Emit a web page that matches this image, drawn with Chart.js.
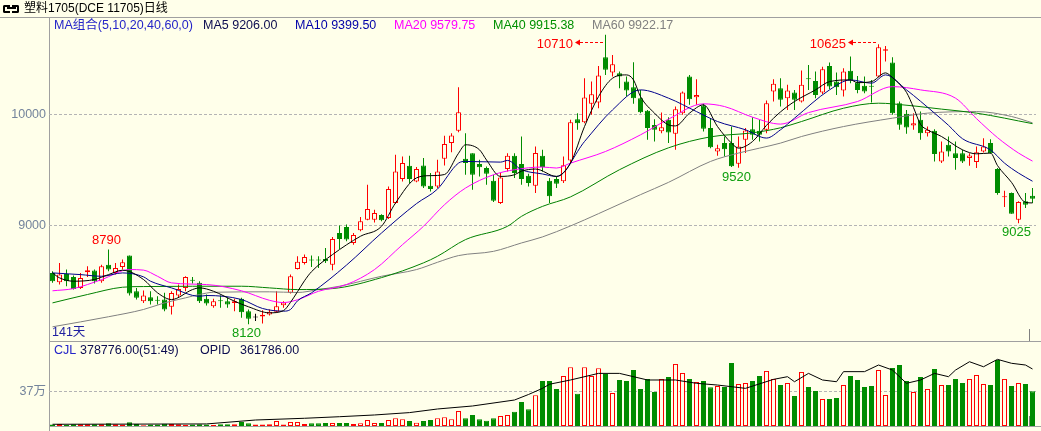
<!DOCTYPE html>
<html>
<head>
<meta charset="utf-8">
<title>塑料1705 日线</title>
<script src="https://cdn.jsdelivr.net/npm/chart.js@4.4.1/dist/chart.umd.min.js"></script>
<style>
  html, body { margin: 0; padding: 0; }
  body { width: 1041px; height: 431px; overflow: hidden; position: relative; background: #ffffea;
         font-family: "Liberation Sans", "Noto Sans CJK SC", sans-serif; }
  .txt { position: absolute; white-space: nowrap; font-size: 12.5px; line-height: 14px; }
  .ln { position: absolute; background: #a0a0a0; }
  canvas { position: absolute; left: 0; }
  #kline { top: 0; }
  #vol { top: 341px; }
  .ic { position: absolute; top: 5px; width: 5px; height: 4px; border: 2px solid #000; }
</style>
</head>
<body>
<div class="ln" style="left:0;top:17px;width:1041px;height:1px"></div>
<div class="ln" style="left:49px;top:17px;width:1px;height:414px"></div>
<div class="ln" style="left:49px;top:341px;width:992px;height:1px"></div>
<div class="ln" style="left:49px;top:426px;width:992px;height:1px"></div>
<div class="ln" style="left:1029px;top:329px;width:1px;height:12px;background:#808080"></div>
<div class="ln" style="left:1029px;top:416px;width:1px;height:10px;background:#808080"></div>

<canvas id="kline" width="1041" height="341"></canvas>
<canvas id="vol" width="1041" height="96"></canvas>

<div class="ic" style="left:3px;border-right:none;border-radius:2px 0 0 2px"></div>
<div class="ic" style="left:12px;border-left:none;border-radius:0 2px 2px 0"></div>
<div style="position:absolute;left:7px;top:7px;width:9px;height:2px;background:#000"></div>
<div class="txt" style="left:24px;top:1px;font-size:12px;color:#000">塑料1705(DCE 11705)日线</div>

<div class="txt" style="left:54px;top:18px;color:#2424c8">MA组合(5,10,20,40,60,0)</div>
<div class="txt" style="left:203px;top:18px;color:#0c0c50">MA5 9206.00</div>
<div class="txt" style="left:295px;top:18px;color:#0000a8">MA10 9399.50</div>
<div class="txt" style="left:394px;top:18px;color:#ff00ff">MA20 9579.75</div>
<div class="txt" style="left:493px;top:18px;color:#009000">MA40 9915.38</div>
<div class="txt" style="left:592px;top:18px;color:#808080">MA60 9922.17</div>

<div class="txt" style="left:52px;top:325px;color:#2020a0">141天</div>

<div class="txt" style="left:54px;top:343px;color:#2424c8">CJL</div>
<div class="txt" style="left:80px;top:343px;color:#0c0c50">378776.00(51:49)</div>
<div class="txt" style="left:200px;top:343px;color:#0c0c50">OPID</div>
<div class="txt" style="left:240px;top:343px;color:#0c0c50">361786.00</div>

<script>
// ===== 日线数据 (141 根) =====
const opens = [
  8580,8497,8571,8544,8446,8586,8601,8506,8654,8580,
  8633,8735,8416,8327,8363,8335,8342,8277,8378,8446,
  8513,8491,8348,8282,8336,8327,8312,8348,8238,8182,
  8190,8208,8232,8290,8402,8616,8669,8695,8695,8705,
  8654,8937,8991,8848,8961,9056,9056,9098,9071,9205,
  9419,9538,9398,9541,9360,9354,9601,9741,9851,9601,
  9651,9553,9518,9405,9205,9509,9628,9553,9449,9360,
  9628,9405,9419,9399,9586,9955,9928,10092,10104,10509,
  10372,10366,10291,10241,10143,10030,9904,9848,9949,9824,
  10009,10336,10152,10077,9875,9666,9741,9741,9556,9771,
  9866,9851,9860,10202,10232,10143,10193,10113,10321,10297,
  10193,10431,10291,10211,10387,10282,10253,10250,10336,10568,
  10461,10098,10003,9899,9949,9830,9851,9577,9726,9651,
  9651,9607,9571,9666,9741,9509,9256,9294,9056,9220,
  9270
];
const highs = [
  8595,8669,8610,8556,8580,8639,8610,8654,8790,8669,
  8699,8735,8446,8422,8416,8372,8402,8416,8476,8550,
  8544,8506,8387,8348,8378,8357,8348,8357,8253,8215,
  8247,8253,8416,8327,8565,8729,8744,8735,8729,8803,
  8901,9003,9012,8937,9080,9369,9145,9104,9354,9637,
  9622,9628,9527,9607,9473,9592,9806,9830,10241,9830,
  9651,9592,9532,9458,9473,9651,9650,9800,9467,9711,
  9681,9428,9443,9622,9949,10009,10321,10291,10431,10710,
  10529,10381,10336,10464,10217,10038,9955,10015,9973,10068,
  10202,10351,10312,10092,9964,9726,9800,9890,9800,9875,
  9973,9949,10122,10312,10321,10262,10217,10390,10440,10381,
  10425,10461,10372,10410,10515,10342,10336,10306,10625,10610,
  10509,10113,10038,10009,10023,9890,9866,9756,9800,9756,
  9681,9651,9711,9785,9776,9518,9315,9300,9220,9294,
  9339
];
const lows = [
  8491,8476,8461,8431,8437,8544,8485,8491,8595,8565,
  8610,8378,8342,8312,8297,8297,8238,8208,8357,8416,
  8485,8312,8288,8268,8268,8268,8238,8178,8120,8150,
  8128,8199,8223,8268,8395,8610,8655,8634,8625,8669,
  8604,8794,8863,8833,8952,9050,9032,9041,9062,9199,
  9398,9384,9390,9339,9309,9339,9541,9660,9839,9458,
  9324,9443,9369,9214,9196,9488,9428,9369,9354,9294,
  9488,9205,9339,9384,9562,9860,9919,9994,10053,10351,
  10336,10232,10157,10092,10009,9771,9756,9830,9741,9681,
  9994,10083,10083,9845,9696,9628,9622,9527,9520,9652,
  9771,9756,9830,10113,10068,10038,10038,10104,10217,10143,
  10181,10223,10172,10157,10277,10187,10187,10104,10330,10470,
  9994,9860,9824,9860,9771,9800,9577,9562,9622,9503,
  9562,9538,9518,9657,9645,9280,9170,9110,9025,9160,
  9205
];
const closes = [
  8505,8565,8506,8437,8535,8604,8506,8639,8610,8625,
  8675,8395,8357,8378,8327,8331,8253,8401,8437,8544,
  8509,8327,8306,8327,8327,8297,8327,8229,8170,8182,
  8205,8232,8282,8315,8550,8679,8723,8690,8690,8684,
  8884,8884,8878,8919,9041,9151,9116,9050,9330,9488,
  9562,9419,9509,9354,9330,9488,9732,9809,10018,9562,
  9458,9524,9467,9226,9434,9628,9473,9420,9384,9652,
  9527,9265,9378,9544,9928,9919,10149,10178,10345,10396,
  10446,10336,10211,10143,10018,9875,9860,9883,9836,10044,
  10193,10134,10172,9869,9705,9696,9687,9535,9711,9854,
  9815,9815,10098,10271,10128,10211,10128,10262,10312,10172,
  10402,10247,10241,10381,10300,10217,10202,10246,10598,10580,
  10009,9905,9881,9919,9830,9860,9643,9666,9666,9607,
  9577,9631,9660,9711,9651,9294,9262,9110,9214,9190,
  9244
];
// 成交量 CJL
const vols = [
  15000,22000,11000,18000,18000,18000,18000,18000,29000,18000,
  15000,40000,22000,7000,15000,15000,25000,22000,18000,11000,
  15000,18000,15000,11000,18000,18000,18000,44000,29000,15000,
  15000,18000,54000,15000,44000,44000,22000,29000,29000,33000,
  33000,33000,33000,22000,29000,65000,33000,33000,65000,83000,
  73000,54000,36000,54000,65000,83000,94000,73000,163000,83000,
  120000,73000,58000,83000,109000,120000,156000,261000,181000,334000,
  490000,490000,403000,544000,638000,352000,638000,544000,628000,566000,
  359000,501000,490000,609000,403000,512000,370000,512000,533000,675000,
  577000,512000,479000,490000,421000,435000,424000,686000,457000,468000,
  490000,544000,599000,512000,446000,468000,326000,588000,424000,381000,
  294000,294000,305000,446000,544000,501000,424000,435000,609000,337000,
  631000,664000,490000,370000,533000,403000,620000,446000,446000,512000,
  468000,512000,555000,457000,446000,718000,512000,435000,468000,457000,
  378776
];

// 均线 (读图取点: [序号, 数值])
const ma5Pts = [[0,8580],[1,8536],[3,8506],[6,8521],[8,8565],[10,8604],[13,8521],[15,8402],[17,8342],[20,8431],[21,8446],[23,8416],[26,8327],[28,8277],[31,8223],[33,8243],[34,8317],[35,8412],[36,8510],[37,8591],[40,8744],[44,8908],[47,8997],[49,9205],[52,9430],[54,9450],[56,9460],[58,9650],[59,9726],[61,9681],[62,9590],[64,9443],[66,9458],[67,9490],[69,9509],[72,9443],[74,9562],[76,9889],[78,10157],[80,10321],[82,10351],[83,10306],[84,10157],[86,10009],[88,9904],[89,9895],[91,10009],[93,10083],[95,9889],[97,9741],[98,9696],[100,9755],[102,9900],[104,10020],[106,10113],[109,10217],[111,10291],[114,10306],[115,10282],[117,10291],[119,10369],[120,10327],[121,10268],[122,10195],[123,10059],[124,9909],[125,9860],[127,9800],[130,9681],[132,9645],[134,9652],[135,9540],[137,9390],[139,9211],[140,9206]];
const ma10Pts = [[0,8580],[4,8565],[7,8550],[10,8580],[13,8545],[14,8506],[17,8446],[21,8371],[22,8378],[27,8342],[30,8262],[33,8238],[34,8253],[35,8330],[37,8402],[42,8650],[47,8937],[52,9200],[55,9330],[58,9562],[59,9577],[64,9571],[65,9586],[67,9503],[70,9465],[72,9443],[76,9755],[80,10038],[84,10217],[88,10143],[92,10023],[95,9934],[99,9860],[102,9786],[104,9860],[106,9964],[111,10217],[114,10306],[117,10277],[119,10351],[122,10217],[126,10009],[128,9900],[130,9780],[134,9680],[136,9562],[138,9473],[140,9400]];
const ma20Pts = [[0,8420],[3,8440],[7,8520],[11,8610],[13,8605],[15,8550],[17,8491],[22,8476],[27,8420],[31,8335],[33,8315],[35,8340],[38,8416],[42,8476],[46,8610],[50,8833],[53,8997],[56,9190],[59,9339],[63,9458],[66,9503],[70,9527],[72,9518],[74,9562],[79,9666],[84,9815],[88,9955],[93,10092],[96,10068],[100,9973],[104,9911],[108,10014],[115,10113],[120,10246],[124,10217],[129,10143],[132,9960],[135,9790],[138,9652],[140,9580]];
const ma40Pts = [[0,8312],[5,8387],[10,8452],[13,8458],[27,8461],[31,8446],[35,8431],[40,8440],[47,8538],[53,8670],[55,8729],[59,8878],[65,8997],[67,9086],[70,9175],[74,9260],[81,9503],[88,9699],[94,9797],[100,9833],[104,9878],[107,9934],[113,10053],[118,10098],[120,10092],[127,10045],[132,10009],[140,9915]];
const ma60Pts = [[0,8098],[8,8188],[13,8253],[16,8312],[19,8357],[21,8387],[23,8407],[31,8411],[35,8405],[38,8431],[41,8461],[47,8550],[52,8610],[55,8675],[58,8735],[63,8773],[67,8848],[70,8902],[74,9000],[78,9110],[84,9280],[88,9390],[94,9577],[98,9652],[101,9696],[104,9741],[107,9800],[113,9889],[120,9964],[125,10009],[132,10023],[137,9979],[140,9922]];
// 持仓量 OPID
const oiPts = [[0,11000],[22,13000],[29,38000],[36,49000],[41,59000],[46,70000],[51,85000],[55,108000],[60,127000],[66,165000],[68,200000],[70,239000],[71,265000],[74,292000],[78,334000],[81,334000],[85,292000],[89,292000],[92,271000],[95,260000],[99,239000],[103,296000],[105,313000],[106,281000],[108,334000],[110,292000],[112,281000],[113,345000],[116,345000],[118,387000],[120,355000],[122,271000],[124,292000],[126,334000],[128,313000],[129,355000],[131,408000],[133,376000],[135,423000],[137,398000],[139,387000],[140,361786]];

const priceTicks = [9000, 10000];
const volTicks = [370000];
const plainHighs = [8];        // 8790
const arrowHighs = [79, 118];  // 10710, 10625
const lowMarks = [28, 98, 138]; // 8120, 9520, 9025

// ===== 样式 =====
const FONT = '"Liberation Sans", "Noto Sans CJK SC", sans-serif';
const BG = '#ffffea', RED = '#ff0000', GREEN = '#008c00', BLACK = '#000000';
const TICK = '#74849c', LOWTXT = '#10a010';

const idx = opens.map((_, i) => i);
const dir = idx.map(i => closes[i] > opens[i] ? 1 : (closes[i] < opens[i] ? -1 : 0));
const candleColor = idx.map(i => dir[i] > 0 ? RED : (dir[i] < 0 ? GREEN : BLACK));
const bodyFill = idx.map(i => dir[i] > 0 ? BG : candleColor[i]);
const volColor = idx.map(i => dir[i] < 0 ? GREEN : RED);
const volFill = idx.map(i => dir[i] < 0 ? GREEN : BG);

function sparse(pts) {
  const out = idx.map(() => null);
  pts.forEach(([i, v]) => { out[i] = v; });
  return out;
}

function maLine(pts, color) {
  return {
    type: 'line', data: sparse(pts), borderColor: color, borderWidth: 1,
    pointRadius: 0, spanGaps: true, cubicInterpolationMode: 'monotone', order: 0
  };
}

// 高低点标注
const markPlugin = {
  id: 'marks',
  afterDatasetsDraw(chart) {
    const { ctx, scales: { x, y } } = chart;
    ctx.save();
    ctx.font = '13px ' + FONT;
    ctx.textBaseline = 'alphabetic';

    ctx.fillStyle = RED;
    ctx.textAlign = 'center';
    plainHighs.forEach(i => {
      ctx.fillText(String(highs[i]), x.getPixelForValue(i) - 2, y.getPixelForValue(highs[i]) - 5);
    });

    const ay = Math.round(y.getPixelForValue(Math.max(...highs)) + 7) + 0.5;
    arrowHighs.forEach(i => {
      const px = Math.floor(x.getPixelForValue(i));
      ctx.textAlign = 'right';
      ctx.fillStyle = RED;
      ctx.fillText(String(highs[i]), px - 32, ay + 5);
      ctx.beginPath();
      ctx.moveTo(px - 30, ay);
      ctx.lineTo(px - 25, ay - 3);
      ctx.lineTo(px - 25, ay + 3);
      ctx.closePath();
      ctx.fill();
      ctx.strokeStyle = RED;
      ctx.lineWidth = 1;
      ctx.setLineDash([3, 2]);
      ctx.beginPath();
      ctx.moveTo(px - 25, ay);
      ctx.lineTo(px - 1, ay);
      ctx.stroke();
      ctx.setLineDash([]);
    });

    ctx.textAlign = 'center';
    ctx.fillStyle = LOWTXT;
    lowMarks.forEach(i => {
      ctx.fillText(String(lows[i]), x.getPixelForValue(i) - 2, y.getPixelForValue(lows[i]) + 13);
    });
    ctx.restore();
  }
};

// ===== K线图 =====
new Chart(document.getElementById('kline'), {
  type: 'bar',
  data: {
    labels: idx,
    datasets: [
      maLine(ma5Pts, '#000000'),
      maLine(ma10Pts, '#00008b'),
      maLine(ma20Pts, '#ff00ff'),
      maLine(ma40Pts, '#008000'),
      maLine(ma60Pts, '#808080'),
      {
        data: idx.map(i => [opens[i], closes[i]]),
        backgroundColor: bodyFill, borderColor: candleColor, borderWidth: 1,
        borderSkipped: false, barThickness: 5, grouped: false, minBarLength: 1,
        inflateAmount: 0, order: 1
      },
      {
        data: idx.map(i => [lows[i], highs[i]]),
        backgroundColor: candleColor, borderWidth: 0,
        barThickness: 1, grouped: false, inflateAmount: 0, order: 2
      }
    ]
  },
  options: {
    responsive: false, animation: false, devicePixelRatio: 1, events: [],
    layout: { padding: { left: 0, right: 5, top: 20, bottom: 10 } },
    plugins: { legend: { display: false }, tooltip: { enabled: false } },
    scales: {
      x: { display: false, offset: true },
      y: {
        min: 8065, max: 10842,
        afterFit: s => { s.width = 49; },
        afterBuildTicks: s => { s.ticks = priceTicks.map(v => ({ value: v })); },
        ticks: { color: TICK, font: { family: FONT, size: 12.5 }, padding: 3, callback: v => String(v) },
        grid: { color: '#b4b4b4', drawTicks: false },
        border: { display: false, dash: [3, 2] }
      }
    }
  },
  plugins: [markPlugin]
});

// ===== 成交量 / 持仓量 =====
new Chart(document.getElementById('vol'), {
  type: 'bar',
  data: {
    labels: idx,
    datasets: [
      {
        type: 'line', data: sparse(oiPts), yAxisID: 'y2', borderColor: '#000000',
        borderWidth: 1, pointRadius: 0, spanGaps: true, tension: 0, order: 0
      },
      {
        data: vols, backgroundColor: volFill, borderColor: volColor, borderWidth: 1,
        borderSkipped: false, barThickness: 5, inflateAmount: 0, order: 1
      }
    ]
  },
  options: {
    responsive: false, animation: false, devicePixelRatio: 1, events: [],
    layout: { padding: { left: 0, right: 5, top: 11, bottom: 11 } },
    plugins: { legend: { display: false }, tooltip: { enabled: false } },
    scales: {
      x: { display: false, offset: true },
      y: {
        min: 0, max: 805000,
        afterFit: s => { s.width = 49; },
        afterBuildTicks: s => { s.ticks = volTicks.map(v => ({ value: v })); },
        ticks: { color: TICK, font: { family: FONT, size: 12.5 }, padding: 3, callback: v => (v / 10000) + '万' },
        grid: { color: '#b4b4b4', drawTicks: false },
        border: { display: false, dash: [3, 2] }
      },
      y2: { display: false, min: 0, max: 469700 }
    }
  }
});
</script>
</body>
</html>
